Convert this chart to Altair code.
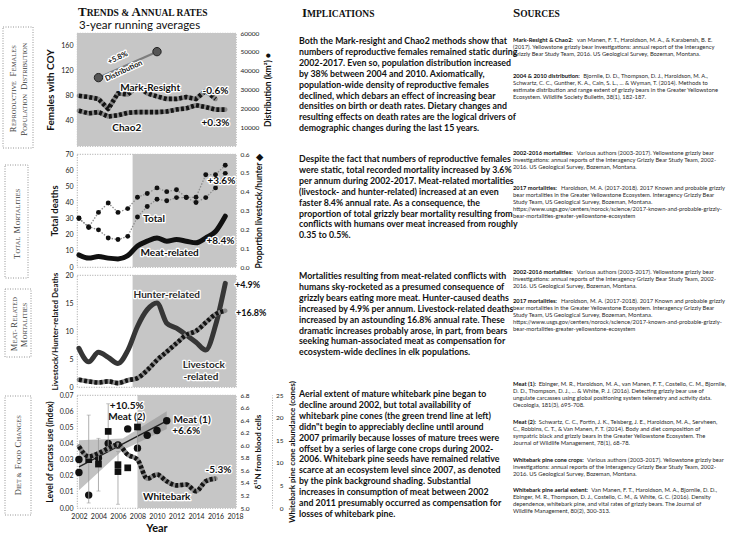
import altair as alt
import pandas as pd

FONT = "Lato"
SERIF = "Liberation Serif"
INK = "#111111"
SHADE = "#c6c6c6"

# ---------------- series (3-year running averages) ----------------
years_mr = list(range(2002, 2017))
mark_resight = [80, 78, 75, 59, 84, 82, 95, 84, 79, 75, 75, 78, 75, 88, 75]
years_chao2 = list(range(2002, 2018))
chao2 = [56, 52, 54, 47, 49, 53, 54, 54, 54, 55, 58, 60, 65, 62, 58, 58]
dist_years = [2004, 2010]
distribution_km2 = [36300, 50100]

years_mort = list(range(2002, 2018))
total_deaths = [30, 25, 23, 18, 17, 19, 31, 37.5, 42, 41, 43, 43, 40, 43, 49, 58]
prop_livestock_hunter = [0.26, 0.21, 0.29, 0.34, 0.29, 0.31, 0.37, 0.39, 0.42, 0.40,
                         0.41, 0.37, 0.37, 0.49, 0.49, 0.54]
meat_related = [7.5, 5.5, 6.5, 5.5, 5, 7, 13, 16, 18, 16, 17, 16, 15, 18, 22, 31.5]

hunter_related = [6.9, 4.5, 6.2, 5.3, 4.2, 6.5, 10.8, 13.8, 15.0, 11.4, 10.5, 9.3, 8.0, 6.6, 11.0, 18.5]
livestock_related = [1.3, 1.0, 0.8, 1.0, 0.7, 1.2, 1.6, 3.0, 4.8, 6.3, 7.8, 9.3, 10.0, 11.5, 13.0, 13.6]

meat1_years = [2002, 2002, 2003, 2004, 2005, 2006, 2007, 2008, 2009, 2010, 2011]
meat1_index = [0.030, 0.022, 0.008, 0.031, 0.040, 0.039, 0.049, 0.037, 0.045, 0.048, 0.054]
meat1_trend_years = [2002, 2011]
meat1_trend = [0.0255, 0.054]
meat1_band_years = [2002, 2006.5, 2011]
meat1_band_lo = [0.011, 0.036, 0.049]
meat1_band_hi = [0.042, 0.043, 0.060]

meat2_years = [2003, 2004, 2005, 2006, 2006, 2007, 2008]
meat2_d15n = [5.77, 5.70, 6.22, 5.69, 5.58, 5.64, 6.29]
meat2_err_years = [2003, 2004, 2005, 2006, 2008]
meat2_err_lo = [5.08, 5.27, 5.90, 5.06, 5.90]
meat2_err_hi = [6.48, 6.11, 6.66, 5.90, 6.48]

years_wb = list(range(2002, 2017))
whitebark_cones = [13.6, 11.4, 12.1, 13.2, 14.0, 11.8, 10.7, 6.5, 7.4, 5.9, 5.0, 5.2, 3.7, 5.9, 6.5]

# ---------------- text ----------------
para1 = [
    "Both the Mark-resight and Chao2 methods show that",
    "numbers of reproductive females remained static during",
    "2002-2017. Even so, population distribution increased",
    "by 38% between 2004 and 2010. Axiomatically,",
    "population-wide density of reproductive females",
    "declined, which debars an effect of increasing bear",
    "densities on birth or death rates. Dietary changes and",
    "resulting effects on death rates are the logical drivers of",
    "demographic changes during the last 15 years.",
]
para2 = [
    "Despite the fact that numbers of reproductive females",
    "were static, total recorded mortality increased by 3.6%",
    "per annum during 2002-2017. Meat-related mortalities",
    "(livestock- and hunter-related) increased at an even",
    "faster 8.4% annual rate. As a consequence, the",
    "proportion of total grizzly bear mortality resulting from",
    "conflicts with humans over meat increased from roughly",
    "0.35 to 0.5%.",
]
para3 = [
    "Mortalities resulting from meat-related conflicts with",
    "humans sky-rocketed as a presumed consequence of",
    "grizzly bears eating more meat. Hunter-caused deaths",
    "increased by 4.9% per annum. Livestock-related deaths",
    "increased by an astounding 16.8% annual rate. These",
    "dramatic increases probably arose, in part, from bears",
    "seeking human-associated meat as compensation for",
    "ecosystem-wide declines in elk populations.",
]
para4 = [
    "Aerial extent of mature whitebark pine began to",
    "decline around 2002, but total availability of",
    "whitebark pine cones (the green trend line at left)",
    "didn\"t begin to appreciably decline until around",
    "2007 primarily because losses of mature trees were",
    "offset by a series of large cone crops during 2002-",
    "2006. Whitebark pine seeds have remained relative",
    "scarce at an ecosystem level since 2007, as denoted",
    "by the pink background shading. Substantial",
    "increases in consumption of meat between 2002",
    "and 2011 presumably occurred as compensation for",
    "losses of whitebark pine.",
]

mort_ref_lead = "2002-2016 mortalities:"
mort_ref = ["Various authors (2003-2017). Yellowstone grizzly bear",
            "investigations: annual reports of the Interagency Grizzly Bear Study Team, 2002-",
            "2016. US Geological Survey, Bozeman, Montana."]
mort17_lead = "2017 mortalities:"
mort17_ref = ["Haroldson, M. A. (2017-2018). 2017 Known and probable grizzly",
              "bear mortalities in the Greater Yellowstone Ecosystem. Interagency Grizzly Bear",
              "Study Team, US Geological Survey, Bozeman, Montana.",
              "https://www.usgs.gov/centers/norock/science/2017-known-and-probable-grizzly-",
              "bear-mortalities-greater-yellowstone-ecosystem"]
sources = [
    ("Mark-Resight & Chao2:",
     ["van Manen, F. T., Haroldson, M. A., & Karabensh, B. E.",
      "(2017). Yellowstone grizzly bear investigations: annual report of the Interagency",
      "Grizzly Bear Study Team, 2016. US Geological Survey, Bozeman, Montana."], 37),
    ("2004 & 2010 distribution:",
     ["Bjornlie, D. D., Thompson, D. J., Haroldson, M. A.,",
      "Schwartz, C. C., Gunther, K. A., Cain, S. L., ... & Wyman, T. (2014). Methods to",
      "estimate distribution and range extent of grizzly bears in the Greater Yellowstone",
      "Ecosystem. Wildlife Society Bulletin, 38(1), 182-187."], 73),
    (mort_ref_lead, mort_ref, 150),
    (mort17_lead, mort17_ref, 185),
    (mort_ref_lead, mort_ref, 269),
    (mort17_lead, mort17_ref, 298),
    ("Meat (1):",
     ["Ebinger, M. R., Haroldson, M. A., van Manen, F. T., Costello, C. M., Bjornlie,",
      "D. D., Thompson, D. J., ... & White, P. J. (2016). Detecting grizzly bear use of",
      "ungulate carcasses using global positioning system telemetry and activity data.",
      "Oecologia, 181(3), 695-708."], 381),
    ("Meat (2):",
     ["Schwartz, C. C., Fortin, J. K., Teisberg, J. E., Haroldson, M. A., Servheen,",
      "C., Robbins, C. T., & Van Manen, F. T. (2014). Body and diet composition of",
      "sympatric black and grizzly bears in the Greater Yellowstone Ecosystem. The",
      "Journal of Wildlife Management, 78(1), 68-78."], 419),
    ("Whitebark pine cone crops:",
     ["Various authors (2003-2017). Yellowstone grizzly bear",
      "investigations: annual reports of the Interagency Grizzly Bear Study Team, 2002-",
      "2016. US Geological Survey, Bozeman, Montana."], 457),
    ("Whitebark pine aerial extent:",
     ["Van Manen, F. T., Haroldson, M. A., Bjornlie, D. D.,",
      "Ebinger, M. R., Thompson, D. J., Costello, C. M., & White, G. C. (2016). Density",
      "dependence, whitebark pine, and vital rates of grizzly bears. The Journal of",
      "Wildlife Management, 80(2), 300-313."], 487),
]

# ---------------- layout ----------------
X_DOMAIN = [2001.8, 2018.1]
PLOT_X0 = 77          # page x of the plot areas' left edge
PLOT_W = 159
PANEL_H = [113, 113, 112, 113]
GAP = 8
HEADER_H = 25
ONE = pd.DataFrame({"k": [0]})
FRAME = alt.ViewBackground(stroke="#8c8c8c", strokeDash=[1, 1.5], strokeWidth=0.8)

XS = alt.Scale(domain=X_DOMAIN, nice=False, zero=False)
AX_YEAR = alt.Axis(values=list(range(2002, 2019, 2)), format="d", title="Year", grid=False,
                   domain=False, ticks=False, labelFlush=False, labelFont=FONT, labelFontSize=7,
                   labelColor="#222", labelPadding=4, titleFont=FONT, titleFontSize=11,
                   titleFontWeight="bold", titleColor=INK, titlePadding=3)


def xq(axis=None):
    return alt.X("year:Q", scale=XS, axis=axis)


def left_axis(title, values, fmt, tsize):
    return alt.Axis(title=title, values=values, format=fmt, grid=False, domain=False, ticks=False,
                    labelFont=FONT, labelFontSize=7, labelColor="#222", labelPadding=4,
                    titleFont=FONT, titleFontSize=tsize, titleFontWeight="bold",
                    titleColor=INK, titlePadding=5)


def right_axis(title, values, fmt, tsize=8.5, offset=0, label_align="left", label_pad=4, domain=False):
    return alt.Axis(orient="right", title=title, values=values, format=fmt, grid=False,
                    domain=domain, domainColor="#9a9a9a", domainDash=[1, 1.5], domainWidth=0.8,
                    ticks=False, offset=offset, labelFont=FONT, labelFontSize=6.5,
                    labelColor="#222", labelPadding=label_pad, labelAlign=label_align,
                    titleFont=FONT, titleFontSize=tsize, titleFontWeight="bold",
                    titleColor=INK, titlePadding=5, titleAngle=270, titleBaseline="top")


def shade(start, axis=None):
    return alt.Chart(ONE).mark_rect(color=SHADE).encode(
        x=alt.XDatum(start, type="quantitative", scale=XS, axis=axis),
        x2=alt.datum(X_DOMAIN[1]))


def labels(df, y, x, size=10, color=INK, align="center", angle=0):
    base = alt.Chart(df).encode(x=x, y=y, text="label:N")
    kw = dict(font=FONT, fontSize=size, fontWeight="bold", align=align, baseline="middle", angle=angle)
    return [base.mark_text(stroke="white", strokeWidth=2.6, strokeJoin="round", fill="white", **kw),
            base.mark_text(fill=color, **kw)]


def beaded(df, y, x, interp="linear", width=4.6):
    base = alt.Chart(df).encode(x=x, y=y)
    return [base.mark_line(color="#8a8a8a", strokeWidth=width, interpolate=interp,
                           strokeCap="round", strokeJoin="round"),
            base.mark_line(color="#141414", strokeWidth=width, interpolate=interp,
                           strokeDash=[3, 2.2], strokeJoin="round")]


def dotted_series(df, y, x):
    base = alt.Chart(df).encode(x=x, y=y)
    return [base.mark_line(color="#8d8d8d", strokeWidth=1.3, strokeDash=[1.5, 1.5]),
            base.mark_circle(size=24, color=INK, opacity=1)]


# ---------------- panel 1: females & distribution ----------------
Y1 = alt.Y("v:Q", scale=alt.Scale(domain=[0, 180], nice=False),
           axis=left_axis("Females with COY", [40, 80, 120, 160], "d", 10))
Y1R = alt.Y("d:Q", scale=alt.Scale(domain=[0, 60000], nice=False),
            axis=right_axis("Distribution (km²) ●", list(range(10000, 60001, 10000)), "d"))
mr_df = pd.DataFrame({"year": years_mr, "v": mark_resight})
ch_df = pd.DataFrame({"year": years_chao2, "v": chao2})
dist_df = pd.DataFrame({"year": dist_years, "d": distribution_km2})
p1_notes = pd.DataFrame({"year": [2009.3, 2016.0, 2006.9, 2016.0], "v": [92, 88, 29, 37],
                         "label": ["Mark-Resight", "-0.6%", "Chao2", "+0.3%"]})
dist_notes = pd.DataFrame({"year": [2006.0, 2006.6], "d": [46700, 39800],
                           "label": ["+5.8%", "Distribution"]})
p1 = alt.layer(
    alt.layer(shade(X_DOMAIN[0]), *beaded(mr_df, Y1, xq()), *beaded(ch_df, Y1, xq()),
              *labels(p1_notes, Y1, xq())),
    alt.layer(alt.Chart(dist_df).mark_line(color="#7d7d7d", strokeWidth=2.2).encode(x=xq(), y=Y1R),
              alt.Chart(dist_df).mark_circle(size=70, color="#555", stroke="#222", strokeWidth=1,
                                             opacity=1).encode(x=xq(), y=Y1R),
              *labels(dist_notes, Y1R, xq(), size=7.5, angle=335)),
).resolve_scale(y="independent").properties(width=PLOT_W, height=PANEL_H[0], view=FRAME)

# ---------------- panel 2: total mortalities ----------------
Y2 = alt.Y("v:Q", scale=alt.Scale(domain=[0, 70], nice=False),
           axis=left_axis("Total deaths", list(range(0, 71, 10)), "d", 9.5))
Y2R = alt.Y("p:Q", scale=alt.Scale(domain=[0, 0.6], nice=False),
            axis=right_axis("Proportion livestock/hunter ◆", [0, 0.1, 0.2, 0.3, 0.4, 0.5, 0.6], ".1f"))
tot_df = pd.DataFrame({"year": years_mort, "v": total_deaths})
meat_df = pd.DataFrame({"year": years_mort, "v": meat_related})
prop_df = pd.DataFrame({"year": years_mort, "p": prop_livestock_hunter})
p2_notes = pd.DataFrame({"year": [2009.7, 2016.6, 2011.3, 2016.5], "v": [30, 53.5, 8.5, 16],
                         "label": ["Total", "+3.6%", "Meat-related", "+8.4%"]})
p2 = alt.layer(
    alt.layer(shade(2007.5), *dotted_series(tot_df, Y2, xq()),
              alt.Chart(meat_df).mark_line(color=INK, strokeWidth=5, interpolate="monotone",
                                           strokeCap="round").encode(x=xq(), y=Y2),
              *labels(p2_notes, Y2, xq())),
    alt.layer(*dotted_series(prop_df, Y2R, xq())),
).resolve_scale(y="independent").properties(width=PLOT_W, height=PANEL_H[1], view=FRAME)

# ---------------- panel 3: meat-related mortalities ----------------
Y3 = alt.Y("v:Q", scale=alt.Scale(domain=[0, 20], nice=False),
           axis=left_axis("Livestock/Hunter-related Deaths", [0, 5, 10, 15, 20], "d", 8))
hun_df = pd.DataFrame({"year": years_mort, "v": hunter_related})
liv_df = pd.DataFrame({"year": years_mort, "v": livestock_related})
p3_notes = pd.DataFrame({"year": [2011.0, 2014.8, 2014.5], "v": [16.5, 4.0, 1.7],
                         "label": ["Hunter-related", "Livestock", "-related"]})
p3_rates = pd.DataFrame({"year": [2018.0, 2018.1], "v": [18.3, 13.2], "label": ["+4.9%", "+16.8%"]})
p3 = alt.layer(
    shade(2007.5),
    alt.Chart(hun_df).mark_line(color="#363636", strokeWidth=5, interpolate="monotone",
                                strokeCap="round").encode(x=xq(), y=Y3),
    *beaded(liv_df, Y3, xq(), interp="monotone"),
    *labels(p3_notes, Y3, xq(), color="#2a2a2a"),
    *labels(p3_rates, Y3, xq(), size=9, align="left"),
).properties(width=PLOT_W, height=PANEL_H[2], view=FRAME)

# ---------------- panel 4: diet & food changes ----------------
X4 = xq(AX_YEAR)
Y4 = alt.Y("v:Q", scale=alt.Scale(domain=[0, 0.07], nice=False),
           axis=left_axis("Level of carcass use (index)", [0, 0.01, 0.02, 0.03, 0.04, 0.05, 0.06, 0.07],
                          ".2f", 8.5))
Y4N = alt.Y("d:Q", scale=alt.Scale(domain=[5.0, 6.8], nice=False),
            axis=right_axis("δ¹⁵N from blood cells", [5.0 + 0.2 * i for i in range(10)], ".1f", tsize=8))
Y4C = alt.Y("c:Q", scale=alt.Scale(domain=[0, 25], nice=False),
            axis=right_axis("Whitebark pine cone abundance (cones)", [0, 5, 10, 15, 20, 25], "d",
                            tsize=8, offset=36, label_align="right", label_pad=11, domain=True))
band_df = pd.DataFrame({"year": meat1_band_years, "v": meat1_band_lo, "v2": meat1_band_hi})
trend_df = pd.DataFrame({"year": meat1_trend_years, "v": meat1_trend})
m1_df = pd.DataFrame({"year": meat1_years, "v": meat1_index})
m2_df = pd.DataFrame({"year": meat2_years, "d": meat2_d15n})
err_df = pd.DataFrame({"year": meat2_err_years, "d": meat2_err_lo, "d2": meat2_err_hi})
cap_df = pd.DataFrame({"year": meat2_err_years * 2, "d": meat2_err_lo + meat2_err_hi})
wb_df = pd.DataFrame({"year": years_wb, "c": whitebark_cones})
p4_notes = pd.DataFrame({"year": [2006.9, 2006.9, 2013.0, 2016.3, 2011.0],
                         "v": [0.0633, 0.0565, 0.0475, 0.0237, 0.0067],
                         "label": ["+10.5%", "Meat (2)", "+6.6%", "-5.3%", "Whitebark"]})
p4_m1 = pd.DataFrame({"year": [2011.7], "v": [0.0548], "label": ["Meat (1)"]})
p4 = alt.layer(
    alt.layer(shade(2008, AX_YEAR),
              alt.Chart(band_df).mark_area(color="#8f8f8f", opacity=0.55).encode(
                  x=X4, y=Y4, y2="v2:Q"),
              alt.Chart(trend_df).mark_line(color="#222", strokeWidth=1.3).encode(x=X4, y=Y4),
              alt.Chart(m1_df).mark_circle(size=55, color=INK, opacity=1).encode(x=X4, y=Y4),
              *labels(p4_notes, Y4, X4),
              *labels(p4_m1, Y4, X4, align="left")),
    alt.layer(alt.Chart(err_df).mark_rule(color="#9a9a9a", strokeWidth=0.8).encode(x=X4, y=Y4N, y2="d2:Q"),
              alt.Chart(cap_df).mark_tick(orient="horizontal", size=4, thickness=0.8,
                                          color="#9a9a9a").encode(x=X4, y=Y4N),
              alt.Chart(m2_df).mark_square(size=45, color=INK, opacity=1).encode(x=X4, y=Y4N)),
    alt.layer(*beaded(wb_df, Y4C, X4, interp="monotone")),
).resolve_scale(y="independent").properties(width=PLOT_W, height=PANEL_H[3], view=FRAME)


# ---------------- page text (drawn from the top cell, in page coordinates) ----------------
def txt(text, x, y, size, font=FONT, weight="normal", color=INK, align="left", baseline="alphabetic",
        angle=0, line_height=None):
    kw = dict(text=text, font=font, fontSize=size, fontWeight=weight, color=color, align=align,
              baseline=baseline, angle=angle)
    if line_height:
        kw["lineHeight"] = line_height
    return alt.Chart(ONE).mark_text(**kw).encode(x=alt.value(x - PLOT_X0), y=alt.value(y))


CAP_W = {"A": .722, "B": .667, "C": .722, "D": .722, "E": .667, "F": .611, "G": .722, "H": .722,
         "I": .389, "L": .667, "M": .944, "N": .722, "O": .778, "P": .611, "R": .722, "S": .556,
         "T": .667, "U": .722, "V": .722, "&": .833, "-": .333, " ": .25}


def seg_width(s, size):
    return sum(CAP_W.get(ch, .7) for ch in s) * size


def smallcaps(word_parts, x, y, big=13, small=9.5, weight="bold", color=INK):
    """Heading in small-caps style: (initial, rest) pairs laid out left to right."""
    layers = []
    cx = x
    for initial, rest in word_parts:
        layers.append(txt(initial, cx, y, big, font=SERIF, weight=weight, color=color))
        cx += seg_width(initial, big)
        if rest:
            layers.append(txt(rest, cx, y, small, font=SERIF, weight=weight, color=color))
            cx += seg_width(rest, small)
    return layers


def smallcaps_up(word_parts, x, yc, big=8.5, small=6.5):
    """Small-caps label reading bottom-to-top, centred on page y = yc, baseline at page x = x."""
    total = sum(seg_width(i, big) + seg_width(r, small) for i, r in word_parts)
    cy = yc + total / 2
    layers = []
    for initial, rest in word_parts:
        layers.append(txt(initial, x, cy, big, font=SERIF, color="#3a3a3a", angle=270))
        cy -= seg_width(initial, big)
        if rest:
            layers.append(txt(rest, x, cy, small, font=SERIF, color="#3a3a3a", angle=270))
            cy -= seg_width(rest, small)
    return layers


BOX = dict(fillOpacity=0, stroke="#7a7a7a", strokeWidth=0.8, strokeDash=[1, 1.5])


def box(x0, x1, y0, y1):
    return alt.Chart(ONE).mark_rect(**BOX).encode(
        x=alt.value(x0 - PLOT_X0), x2=alt.value(x1 - PLOT_X0), y=alt.value(y0), y2=alt.value(y1))


def est_width(s, size):
    """Rough advance width of a bold lead-in, so the rest of its line can follow it."""
    w = 0.0
    for ch in s:
        if ch == " ":
            w += 0.21
        elif ch in ".,:;'!|":
            w += 0.26
        elif ch in "()-[]":
            w += 0.34
        elif ch in "iljtfr":
            w += 0.33
        elif ch in "mw":
            w += 0.83
        elif ch in "MW":
            w += 0.9
        elif ch == "&":
            w += 0.74
        elif ch.isdigit():
            w += 0.6
        elif ch.isupper():
            w += 0.7
        else:
            w += 0.56
    return w * size


# invisible anchor pinning the page's top-left corner
anchor = alt.Chart(ONE).mark_rect(opacity=0).encode(
    x=alt.value(-PLOT_X0), x2=alt.value(-PLOT_X0 + 1), y=alt.value(0), y2=alt.value(1))

PX = 299
SX = 513
SRC_SIZE = 5.8
SRC_LH = 7.1
src_layers = []
for lead, lines, y0 in sources:
    src_layers.append(txt(lead, SX, y0, SRC_SIZE, weight="bold", baseline="top"))
    src_layers.append(txt(lines[0], SX + est_width(lead, SRC_SIZE) + 2, y0, SRC_SIZE,
                          color="#2a2a2a", baseline="top"))
    src_layers.append(txt(lines[1:], SX, y0 + SRC_LH, SRC_SIZE, color="#2a2a2a", baseline="top",
                          line_height=SRC_LH))

PARA = dict(size=8.8, weight="bold", baseline="top", line_height=10.9)
page = alt.layer(
    anchor,
    *smallcaps([("T", "RENDS & "), ("A", "NNUAL RATES")], 78, 16),
    txt("3-year running averages", 79, 29, 11.5),
    *smallcaps([("I", "MPLICATIONS")], 302, 17),
    *smallcaps([("S", "OURCES")], SX, 17),
    box(3, 33, 27, 148),
    *smallcaps_up([("R", "EPRODUCTIVE "), ("F", "EMALES")], 16, 88),
    *smallcaps_up([("P", "OPULATION "), ("D", "ISTRIBUTION")], 27, 88),
    box(5, 28, 165, 278),
    *smallcaps_up([("T", "OTAL "), ("M", "ORTALITIES")], 19.5, 222),
    box(5, 31, 289, 357),
    *smallcaps_up([("M", "EAT-"), ("R", "ELATED")], 16.5, 323),
    *smallcaps_up([("M", "ORTALITIES")], 26.5, 323),
    box(5, 31, 396, 515),
    *smallcaps_up([("D", "IET & "), ("F", "OOD "), ("C", "HANGES")], 21, 455),
    txt(para1, PX, 37, **PARA),
    txt(para2, PX, 155, **PARA),
    txt(para3, PX, 272, **PARA),
    txt(para4, PX, 390, **PARA),
    *src_layers,
).properties(width=PLOT_W, height=HEADER_H)

chart = alt.vconcat(page, p1, p2, p3, p4, spacing=GAP, bounds="flush").properties(
    padding=0, background="white"
).configure_view(strokeWidth=0)

chart.save("out.html", embed_options={"renderer": "svg", "actions": False})
